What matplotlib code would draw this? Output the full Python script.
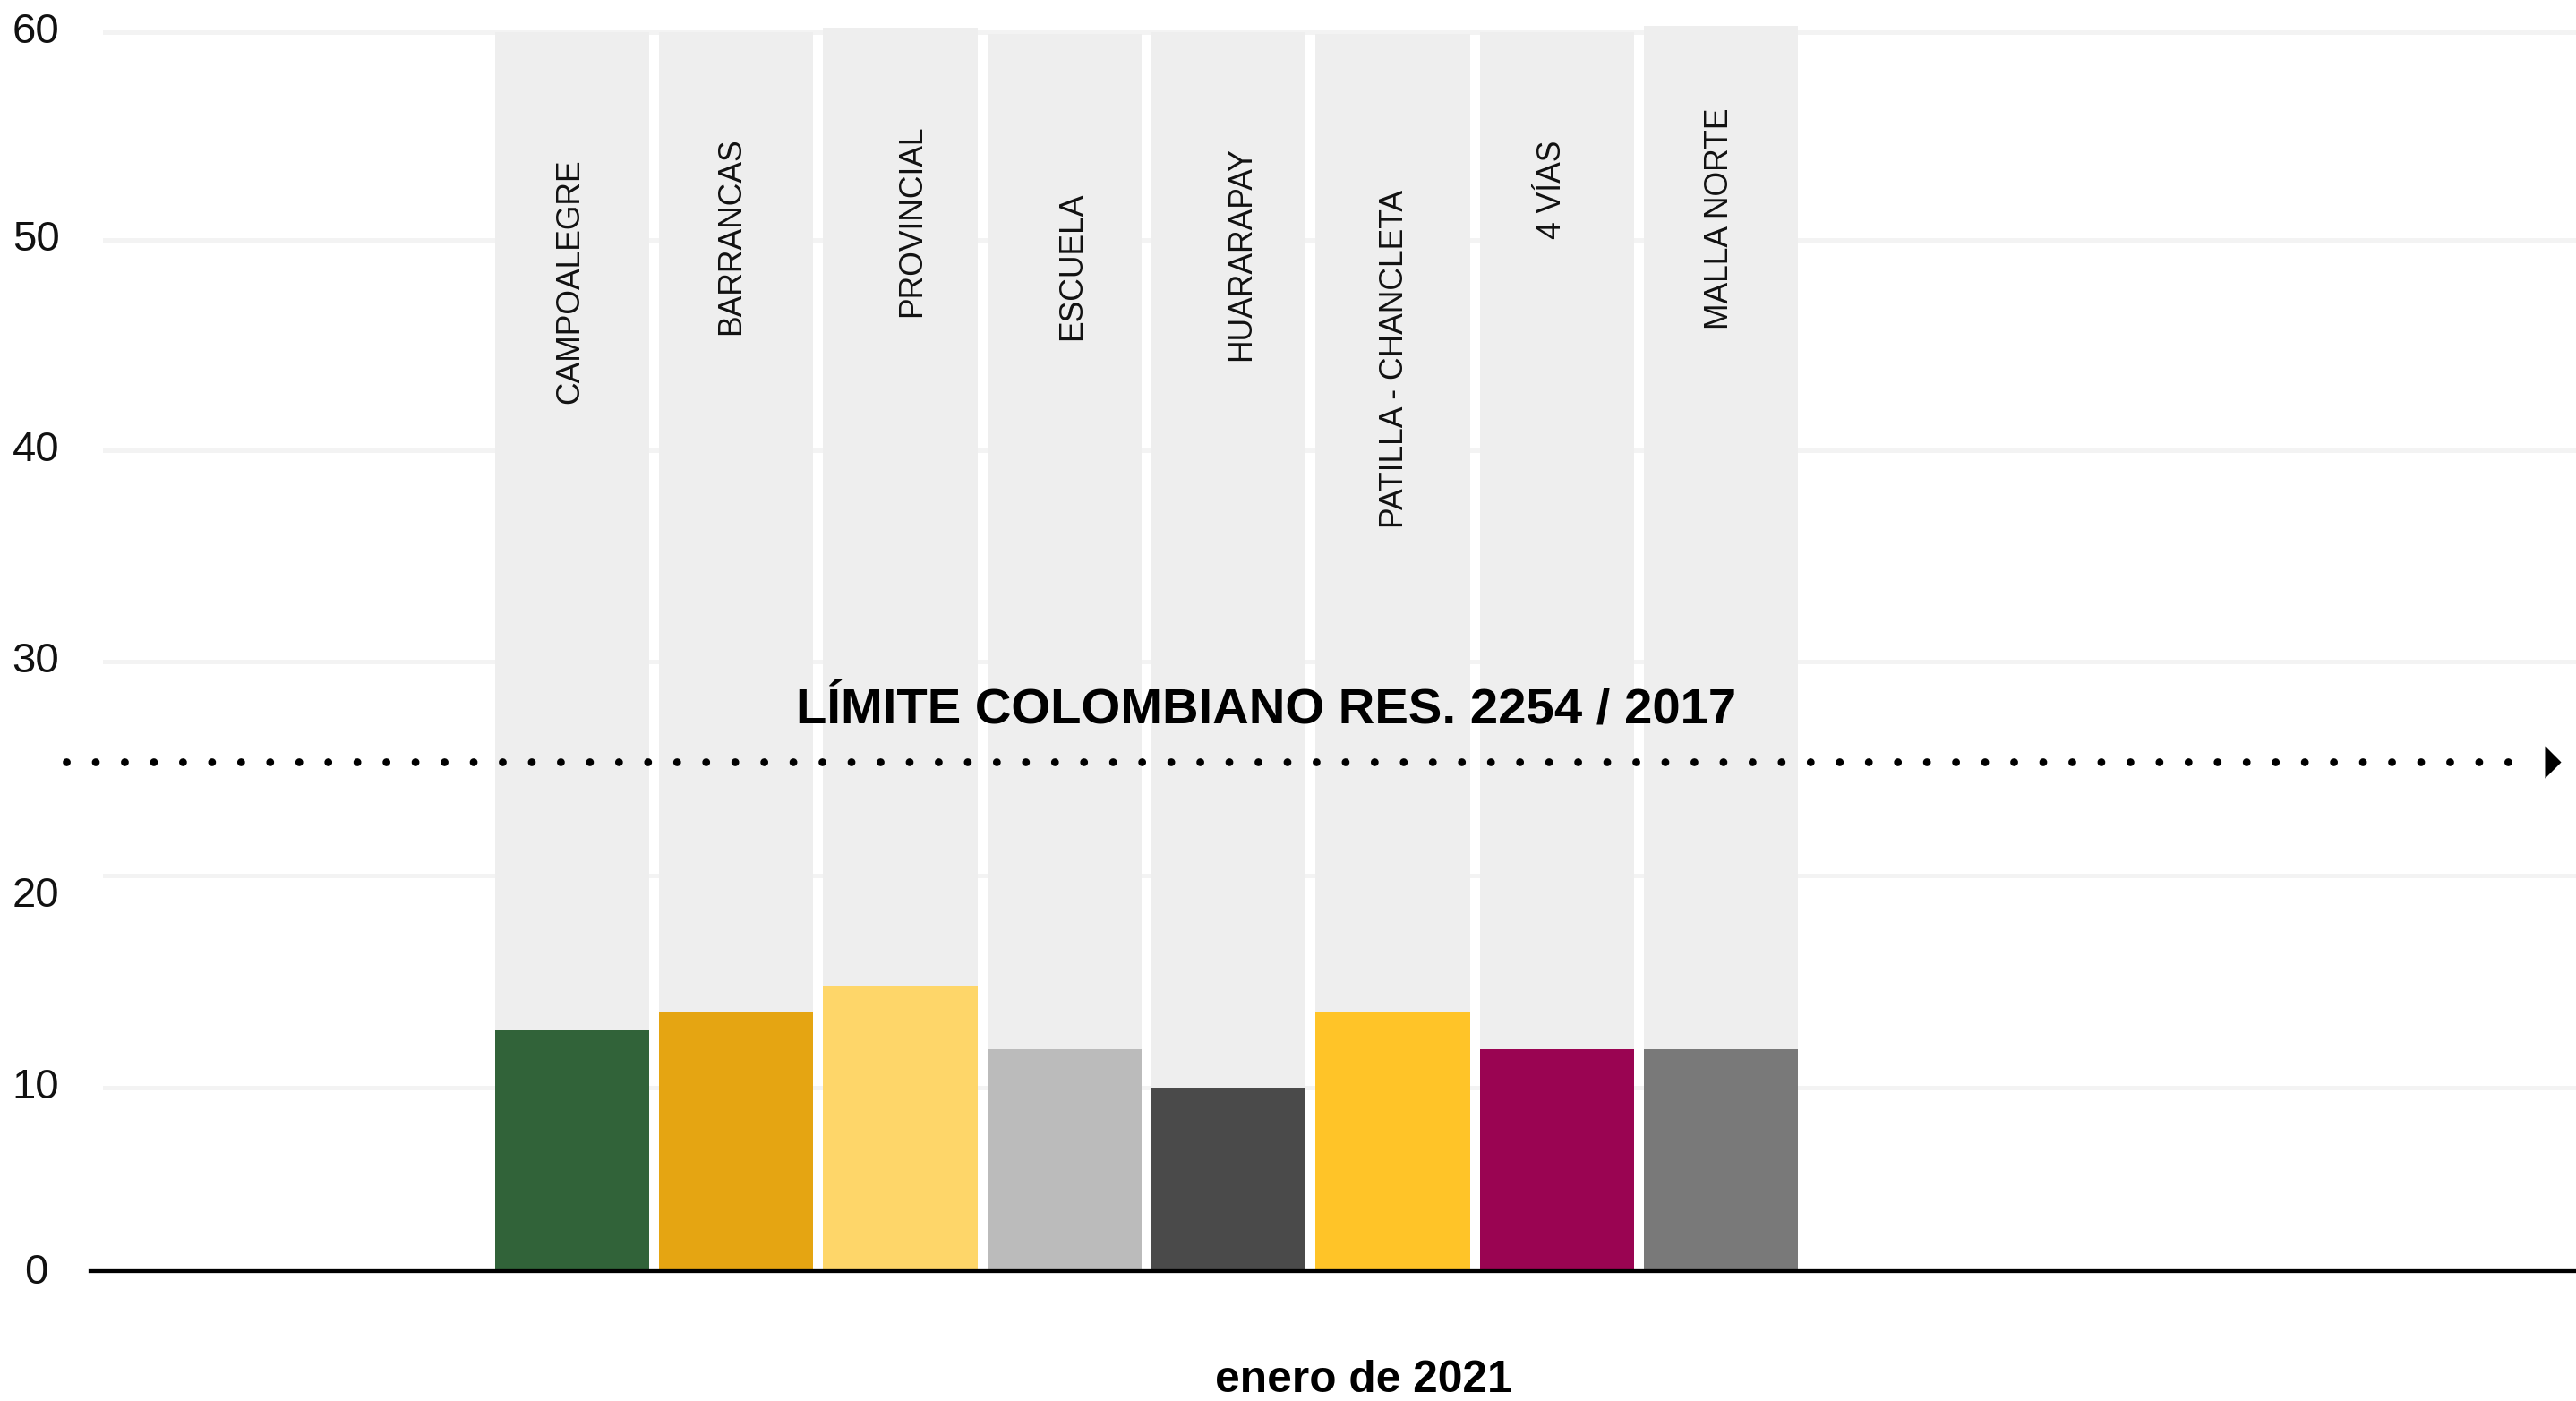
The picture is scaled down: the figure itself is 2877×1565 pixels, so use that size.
import numpy as np
import matplotlib
matplotlib.use('Agg')
import matplotlib.pyplot as plt
from matplotlib import transforms

# data
stations = ["CAMPOALEGRE", "BARRANCAS", "PROVINCIAL", "ESCUELA",
            "HUARARAPAY", "PATILLA - CHANCLETA", "4 VÍAS", "MALLA NORTE"]
pm_values = [12.7, 13.6, 14.8, 11.8, 10.0, 13.6, 11.8, 11.8]
bg_totals = [60.0, 60.0, 60.2, 59.9, 60.0, 59.9, 60.0, 60.3]
limit_value = 25.3
y_ticks = [0, 10, 20, 30, 40, 50, 60]
limit_label = "LÍMITE COLOMBIANO RES. 2254 / 2017"
period_label = "enero de 2021"

bar_colors = ["#316339", "#e5a512", "#fed669", "#bbbbbb",
              "#4a4a4a", "#ffc428", "#9a0452", "#797979"]

plt.rcParams['font.family'] = ['Liberation Sans', 'DejaVu Sans']

W, H = 2877, 1565
fig = plt.figure(figsize=(W / 100, H / 100), dpi=100)
fig.patch.set_facecolor('white')

# axes in pixels: left 101, baseline 1419 from top
ax_left, ax_base = 101, 1419
ax = fig.add_axes([ax_left / W, (H - ax_base) / H, (W - ax_left) / W, ax_base / H])

# the source chart's y axis is not evenly spaced (0-10 is shorter)
scale_vals = np.array([0, 10, 20, 30, 40, 50, 60, 70], dtype=float)
scale_pos = np.array([0, 204, 441, 680, 916, 1151, 1383, 1615], dtype=float)


def fwd(v):
    return np.interp(v, scale_vals, scale_pos)


def inv(p):
    return np.interp(p, scale_pos, scale_vals)


ax.set_yscale('function', functions=(fwd, inv))
ax.set_ylim(0, float(inv(ax_base)))

x = np.arange(len(stations))
px_per_unit = 183.3
ax.set_xlim(-(639 - ax_left) / px_per_unit, len(stations) - 1 + (W - 1922) / px_per_unit)

for s in ax.spines.values():
    s.set_visible(False)
ax.set_xticks([])
ax.set_yticks([])
ax.minorticks_off()
ax.set_facecolor('none')

# gridlines
for t in y_ticks[1:]:
    ax.axhline(t, xmin=(117 - ax_left) / (W - ax_left), xmax=1, color='#f3f3f3', lw=3.6, zorder=0)

# bars: grey background column + coloured value
ax.bar(x, bg_totals, width=0.94, color='#eeeeee', zorder=1)
ax.bar(x, pm_values, width=0.94, color=bar_colors, zorder=2)

# baseline
ax.axhline(0, color='black', lw=3.8, zorder=3, clip_on=False)

# y tick labels (drawn by hand, the "20" sits a bit low in the original)
tick_shift_px = [-2, -5, 18, -5, -5, -5, -5]
yt = transforms.blended_transform_factory(ax.transAxes, ax.transData)
for t, dy in zip(y_ticks, tick_shift_px):
    tr = transforms.offset_copy(yt, fig=fig, x=0, y=-(dy + 17), units='dots')
    ax.text((40 - ax_left) / (W - ax_left), t, str(t), transform=tr, ha='center', va='baseline',
            fontsize=34, color='#111111', clip_on=False)

# station names inside the grey columns
label_dx = [-0.01, -0.03, 0.07, 0.05, 0.08, 0.01, -0.03, -0.01]
label_cy = [314, 264, 247, 297, 284, 401, 212, 244]
lt = transforms.blended_transform_factory(ax.transData, ax.transAxes)
for i, name in enumerate(stations):
    ax.text(x[i] + label_dx[i], (ax_base - label_cy[i]) / ax_base, name, transform=lt,
            rotation=90, ha='center', va='center', fontsize=25.6, color='#111111', zorder=5)

# dotted limit line with arrow head
lim_tr = transforms.blended_transform_factory(ax.transAxes, ax.transData)
aw = W - ax_left
ax.plot([(74 - ax_left) / aw, (2818 - ax_left) / aw], [limit_value, limit_value], transform=lim_tr,
        color='black', lw=6.3, linestyle=(0, (0.01, 3.7)), dash_capstyle='round',
        clip_on=False, zorder=6)
ax.plot([(2851 - ax_left) / aw], [limit_value], transform=lim_tr,
        marker=[(-0.5, 1), (0.5, 0), (-0.5, -1), (-0.5, 1)], markersize=26, color='black',
        markeredgewidth=0, clip_on=False, zorder=6)

fig.text(1414 / W, (H - 809) / H, limit_label, ha='center', va='baseline',
         fontsize=40.5, fontweight='bold', color='black')

fig.text(1523 / W, (H - 1555) / H, period_label, ha='center', va='baseline',
         fontsize=35.7, fontweight='bold', color='black')

fig.savefig('out.png', dpi=100, facecolor='white')
